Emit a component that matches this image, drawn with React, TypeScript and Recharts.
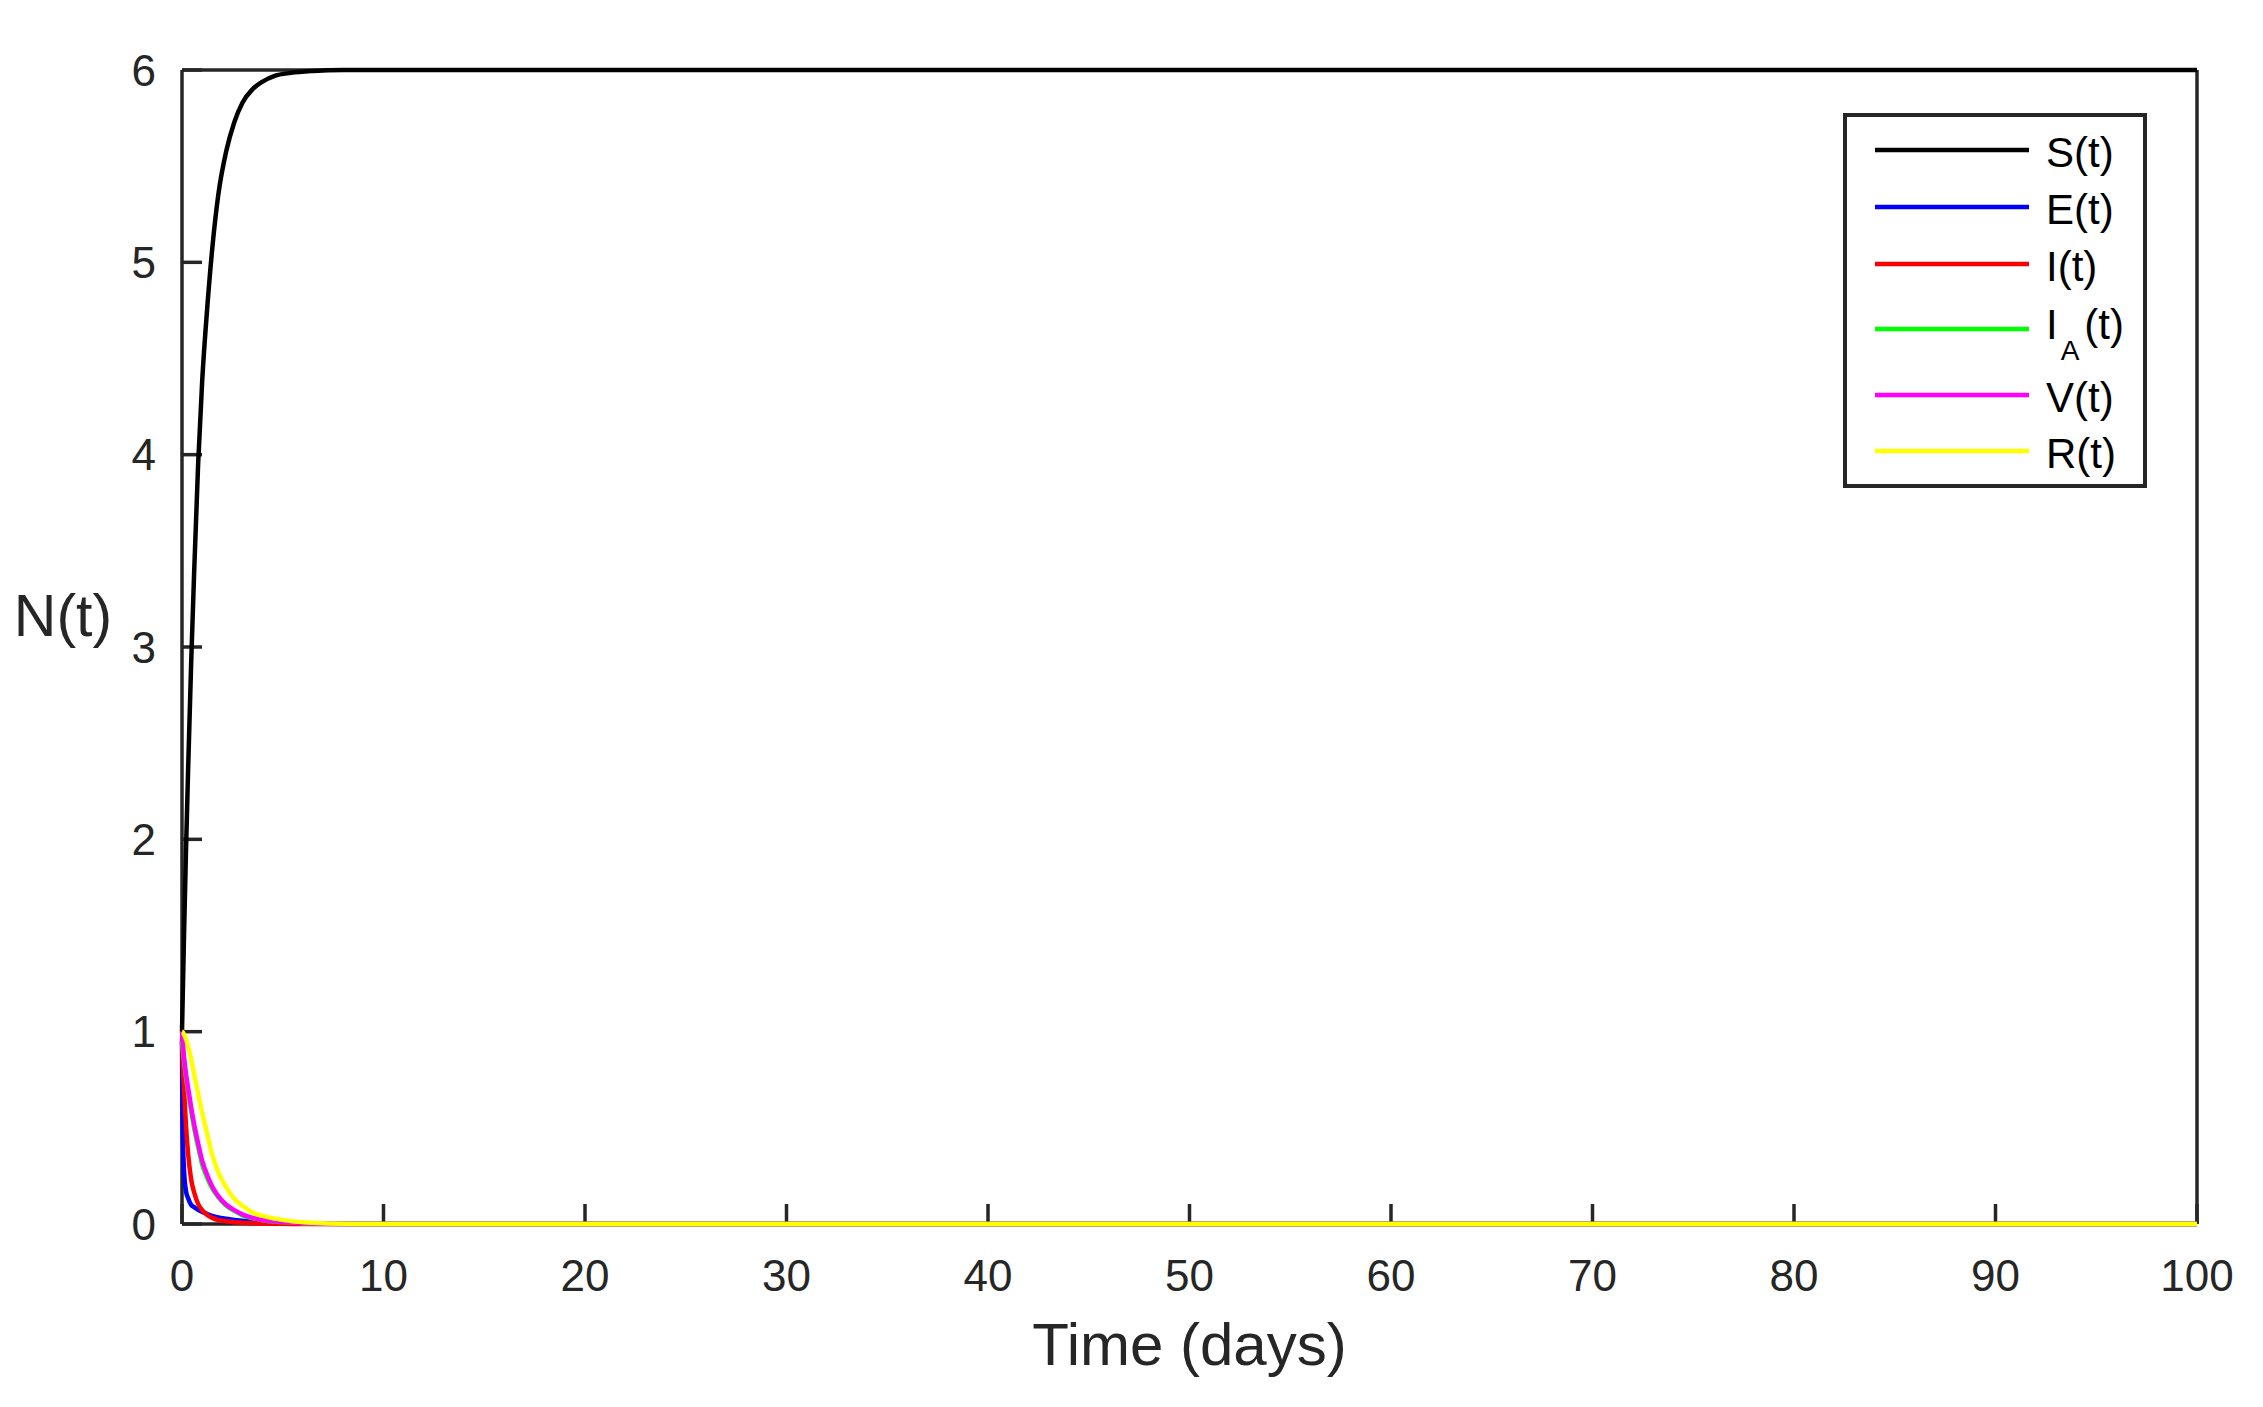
import React from 'react';
import { LineChart, Line, XAxis, YAxis, Legend } from 'recharts';

const times = [0, 0.02, 0.05, 0.1, 0.2, 0.3, 0.45, 0.6, 0.8, 1, 1.25, 1.5, 1.8, 2.2, 2.6, 3, 3.5, 4, 4.6, 5.4, 6.5, 8, 10, 20, 30, 40, 50, 60, 70, 80, 90, 100];
const sValues = [1, 1.1, 1.25, 1.5, 1.95, 2.35, 2.9, 3.38, 3.95, 4.38, 4.76, 5.07, 5.35, 5.58, 5.73, 5.83, 5.9, 5.94, 5.97, 5.985, 5.995, 6, 6, 6, 6, 6, 6, 6, 6, 6, 6, 6];
const eValues = [0.95, 0.6, 0.42, 0.28, 0.17, 0.135, 0.1, 0.088, 0.074, 0.063, 0.052, 0.042, 0.034, 0.027, 0.021, 0.017, 0.012, 0.009, 0.006, 0.003, 0.001, 0, 0, 0, 0, 0, 0, 0, 0, 0, 0, 0];
const iValues = [0.96, 0.88, 0.8, 0.7, 0.51, 0.37, 0.235, 0.165, 0.105, 0.072, 0.047, 0.032, 0.021, 0.014, 0.009, 0.007, 0.004, 0.002, 0.001, 0, 0, 0, 0, 0, 0, 0, 0, 0, 0, 0, 0, 0];
const iaValues = [0.95, 0.93, 0.9, 0.85, 0.76, 0.69, 0.59, 0.5, 0.4, 0.31, 0.24, 0.185, 0.14, 0.095, 0.068, 0.045, 0.03, 0.02, 0.013, 0.008, 0.003, 0.001, 0, 0, 0, 0, 0, 0, 0, 0, 0, 0];
const vValues = [1, 0.97, 0.93, 0.87, 0.78, 0.71, 0.61, 0.52, 0.42, 0.33, 0.255, 0.195, 0.145, 0.1, 0.072, 0.05, 0.032, 0.021, 0.014, 0.008, 0.003, 0.001, 0, 0, 0, 0, 0, 0, 0, 0, 0, 0];
const rValues = [1, 0.999, 0.995, 0.985, 0.96, 0.925, 0.86, 0.78, 0.68, 0.58, 0.47, 0.36, 0.27, 0.19, 0.13, 0.095, 0.06, 0.042, 0.028, 0.015, 0.006, 0.001, 0, 0, 0, 0, 0, 0, 0, 0, 0, 0];

const xTicks = [0, 10, 20, 30, 40, 50, 60, 70, 80, 90, 100];
const yTicks = [0, 1, 2, 3, 4, 5, 6];

const seriesKeys = ['S', 'E', 'I', 'IA', 'V', 'R'];
const seriesColors = ['#000000', '#0000ff', '#ff0000', '#00ff00', '#ff00ff', '#ffff00'];
const seriesNames = ['S(t)', 'E(t)', 'I(t)', 'I_A(t)', 'V(t)', 'R(t)'];

const data = times.map((t, i) => ({
  t,
  S: sValues[i],
  E: eValues[i],
  I: iValues[i],
  IA: iaValues[i],
  V: vValues[i],
  R: rValues[i],
}));

const FONT = '"Liberation Sans", Arial, Helvetica, sans-serif';
const AXIS = '#262626';

const rowY = [37, 94, 151, 216, 282, 338];

const LegendBox = () => (
  <svg width={304} height={375} style={{ display: 'block' }}>
    <rect x={2} y={2} width={300} height={371} fill="#ffffff" stroke={AXIS} strokeWidth={4} />
    {seriesKeys.map((k, i) => (
      <g key={k}>
        <line x1={32} x2={186} y1={rowY[i]} y2={rowY[i]} stroke={seriesColors[i]} strokeWidth={4.5} />
        {k === 'IA' ? (
          <text x={203} y={rowY[i] + 10} fontSize={42} fontFamily={FONT} fill="#000">
            I
            <tspan dx={3} dy={21} fontSize={28}>A</tspan>
            <tspan dx={5} dy={-21} fontSize={42}>(t)</tspan>
          </text>
        ) : (
          <text x={203} y={rowY[i] + 17} fontSize={42} fontFamily={FONT} fill="#000">
            {seriesNames[i]}
          </text>
        )}
      </g>
    ))}
  </svg>
);

const XLabel = (props: any) => {
  const vb = props.viewBox || {};
  return (
    <text x={vb.x + vb.width / 2} y={vb.y + 141} textAnchor="middle" fontSize={60} fontFamily={FONT} fill={AXIS}>
      Time (days)
    </text>
  );
};

const YLabel = (props: any) => {
  const vb = props.viewBox || {};
  return (
    <text x={63} y={vb.y + vb.height / 2 - 11} textAnchor="middle" fontSize={59} fontFamily={FONT} fill={AXIS}>
      N(t)
    </text>
  );
};

export default function App() {
  const axisLine = { stroke: AXIS, strokeWidth: 3.5 };
  const tickStyle = { fontSize: 44, fontFamily: FONT, fill: AXIS };
  const lineProps: any = { zIndex: 900 };
  return (
    <div style={{ position: 'absolute', left: 0, top: 0, width: 2263, height: 1407, background: '#fff' }}>
      <LineChart width={2263} height={1407} data={data} margin={{ top: 40, right: 36, bottom: 83, left: 82 }}>
        <XAxis
          xAxisId="b"
          dataKey="t"
          type="number"
          domain={[0, 100]}
          ticks={xTicks}
          height={100}
          axisLine={axisLine}
          tickLine={axisLine}
          tickSize={-20}
          tickMargin={56}
          tick={tickStyle}
          label={<XLabel />}
        />
        <XAxis
          xAxisId="t"
          orientation="top"
          dataKey="t"
          type="number"
          domain={[0, 100]}
          ticks={xTicks}
          height={30}
          axisLine={axisLine}
          tickLine={axisLine}
          tickSize={-20}
          tick={false}
        />
        <YAxis
          yAxisId="l"
          type="number"
          domain={[0, 6]}
          ticks={yTicks}
          width={100}
          axisLine={axisLine}
          tickLine={axisLine}
          tickSize={-20}
          tickMargin={46}
          tick={tickStyle}
          label={<YLabel />}
        />
        <YAxis
          yAxisId="r"
          orientation="right"
          type="number"
          domain={[0, 6]}
          ticks={yTicks}
          width={30}
          axisLine={axisLine}
          tickLine={axisLine}
          tickSize={-20}
          tick={false}
        />
        {seriesKeys.map((k, i) => (
          <Line
            key={k}
            {...lineProps}
            xAxisId="b"
            yAxisId="l"
            type="monotone"
            dataKey={k}
            name={seriesNames[i]}
            stroke={seriesColors[i]}
            strokeWidth={4.5}
            dot={false}
            activeDot={false}
            isAnimationActive={false}
          />
        ))}
        <Legend
          layout="vertical"
          align="center"
          verticalAlign="middle"
          content={() => <LegendBox />}
          wrapperStyle={{ position: 'absolute', left: 1843, top: 113, width: 304, height: 375 }}
        />
      </LineChart>
    </div>
  );
}
